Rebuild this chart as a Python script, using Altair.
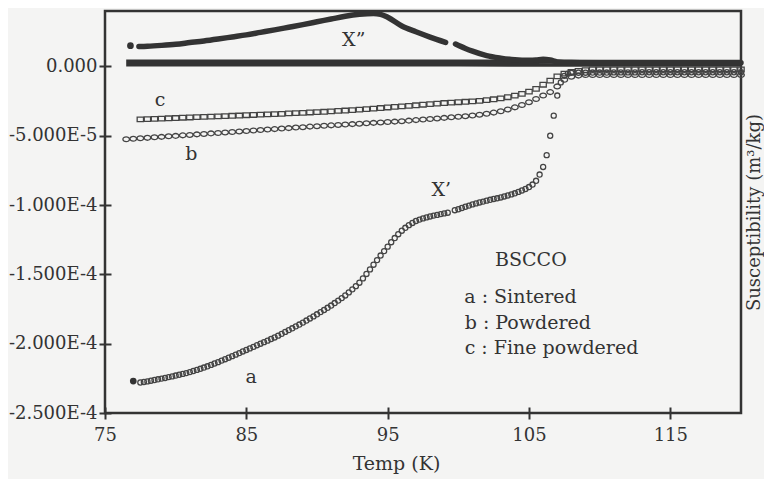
import altair as alt
import pandas as pd

FONT = "DejaVu Serif"
INK = "#333333"
U = 1e-5  # values below are in units of 1e-5 m^3/kg

# ---- chi' of sample a (sintered): open circles ----
T_a = [
    77.5, 77.75,
    78.0, 78.25, 78.5, 78.75,
    79.0, 79.25, 79.5, 79.75,
    80.0, 80.25, 80.5, 80.75,
    81.0, 81.25, 81.5, 81.75,
    82.0, 82.25, 82.5, 82.75,
    83.0, 83.25, 83.5, 83.75,
    84.0, 84.25, 84.5, 84.75,
    85.0, 85.25, 85.5, 85.75,
    86.0, 86.25, 86.5, 86.75,
    87.0, 87.25, 87.5, 87.75,
    88.0, 88.25, 88.5, 88.75,
    89.0, 89.25, 89.5, 89.75,
    90.0, 90.25, 90.5, 90.75,
    91.0, 91.25, 91.5, 91.75,
    92.0, 92.25, 92.5, 92.75,
    93.0, 93.25, 93.5, 93.75,
    94.0, 94.25, 94.5, 94.75,
    95.0, 95.25, 95.5, 95.75,
    96.0, 96.25, 96.5, 96.75,
    97.0, 97.25, 97.5, 97.75,
    98.0, 98.25, 98.5, 98.75,
    99.0, 99.25, 99.75,
    100.0, 100.25, 100.5, 100.75,
    101.0, 101.25, 101.5, 101.75,
    102.0, 102.25, 102.5, 102.75,
    103.0, 103.25, 103.5, 103.75,
    104.0, 104.25, 104.5, 104.75,
    105.0, 105.25, 105.5, 105.75,
    106.0, 106.25, 106.5, 106.75,
    107.0, 107.25, 107.5, 107.75,
    108.0, 108.5, 109.0, 109.5, 110.0, 110.5, 111.0, 111.5, 112.0, 112.5,
    113.0, 113.5, 114.0, 114.5, 115.0, 115.5, 116.0, 116.5, 117.0, 117.5,
    118.0, 118.5, 119.0, 119.5, 120.0,
]
chi_a = [
    -22.80, -22.76,
    -22.72, -22.67, -22.62, -22.57,
    -22.52, -22.47, -22.41, -22.36,
    -22.30, -22.24, -22.18, -22.12,
    -22.05, -21.97, -21.89, -21.81,
    -21.72, -21.63, -21.53, -21.43,
    -21.33, -21.22, -21.12, -21.01,
    -20.90, -20.79, -20.68, -20.56,
    -20.45, -20.34, -20.23, -20.11,
    -20.00, -19.89, -19.78, -19.66,
    -19.55, -19.42, -19.29, -19.15,
    -19.02, -18.89, -18.75, -18.62,
    -18.48, -18.33, -18.18, -18.03,
    -17.88, -17.72, -17.57, -17.41,
    -17.25, -17.07, -16.89, -16.71,
    -16.52, -16.30, -16.08, -15.85,
    -15.60, -15.29, -14.97, -14.64,
    -14.30, -13.97, -13.64, -13.32,
    -13.00, -12.68, -12.38, -12.10,
    -11.85, -11.64, -11.45, -11.29,
    -11.15, -11.05, -10.96, -10.89,
    -10.82, -10.76, -10.71, -10.65,
    -10.60, -10.55, -10.37,
    -10.30, -10.21, -10.12, -10.04,
    -9.95, -9.88, -9.81, -9.75,
    -9.68, -9.62, -9.56, -9.51,
    -9.45, -9.38, -9.31, -9.23,
    -9.15, -9.05, -8.95, -8.84,
    -8.70, -8.52, -8.25, -7.80,
    -7.25, -6.40, -5.00, -3.55,
    -2.10, -1.15, -0.68, -0.52,
    -0.46, -0.45, -0.45, -0.44, -0.44, -0.44, -0.43, -0.43, -0.43, -0.43,
    -0.42, -0.42, -0.42, -0.42, -0.42, -0.42, -0.42, -0.42, -0.42, -0.42,
    -0.42, -0.42, -0.42, -0.42, -0.42,
]

# ---- chi' of sample b (powdered): small open circles ----
T_b = [
    76.5,
    77.0, 77.5, 78.0, 78.5, 79.0, 79.5, 80.0, 80.5, 81.0, 81.5,
    82.0, 82.5, 83.0, 83.5, 84.0, 84.5, 85.0, 85.5, 86.0, 86.5,
    87.0, 87.5, 88.0, 88.5, 89.0, 89.5, 90.0, 90.5, 91.0, 91.5,
    92.0, 92.5, 93.0, 93.5, 94.0, 94.5, 95.0, 95.5, 96.0, 96.5,
    97.0, 97.5, 98.0, 98.5, 99.0, 99.5, 100.0, 100.5, 101.0, 101.5,
    102.0, 102.5, 103.0, 103.5, 104.0, 104.5, 105.0, 105.5, 106.0, 106.5,
    107.0, 107.5, 108.0, 108.5, 109.0, 109.5, 110.0, 110.5, 111.0, 111.5,
    112.0, 112.5, 113.0, 113.5, 114.0, 114.5, 115.0, 115.5, 116.0, 116.5,
    117.0, 117.5, 118.0, 118.5, 119.0, 119.5, 120.0,
]
chi_b = [
    -5.25,
    -5.22, -5.18, -5.15, -5.11, -5.08, -5.04, -5.01, -4.97, -4.94, -4.90,
    -4.87, -4.83, -4.80, -4.76, -4.73, -4.69, -4.66, -4.62, -4.59, -4.55,
    -4.52, -4.48, -4.45, -4.41, -4.38, -4.34, -4.31, -4.28, -4.25, -4.22,
    -4.19, -4.16, -4.13, -4.10, -4.07, -4.04, -4.01, -3.98, -3.95, -3.91,
    -3.87, -3.83, -3.79, -3.75, -3.71, -3.67, -3.63, -3.59, -3.54, -3.48,
    -3.41, -3.33, -3.23, -3.10, -2.95, -2.78, -2.58, -2.35, -2.10, -1.85,
    -1.44, -0.96, -0.74, -0.66, -0.62, -0.62, -0.62, -0.62, -0.62, -0.62,
    -0.62, -0.62, -0.62, -0.62, -0.62, -0.62, -0.62, -0.62, -0.62, -0.62,
    -0.62, -0.62, -0.62, -0.62, -0.62, -0.62, -0.62,
]

# ---- chi' of sample c (fine powdered): open squares ----
T_c = [
    77.5, 78.0, 78.5, 79.0, 79.5, 80.0, 80.5, 81.0, 81.5,
    82.0, 82.5, 83.0, 83.5, 84.0, 84.5, 85.0, 85.5, 86.0, 86.5,
    87.0, 87.5, 88.0, 88.5, 89.0, 89.5, 90.0, 90.5, 91.0, 91.5,
    92.0, 92.5, 93.0, 93.5, 94.0, 94.5, 95.0, 95.5, 96.0, 96.5,
    97.0, 97.5, 98.0, 98.5, 99.0, 99.5, 100.0, 100.5, 101.0, 101.5,
    102.0, 102.5, 103.0, 103.5, 104.0, 104.5, 105.0, 105.5, 106.0, 106.5,
    107.0, 107.5, 108.0, 108.5, 109.0, 109.5, 110.0, 110.5, 111.0, 111.5,
    112.0, 112.5, 113.0, 113.5, 114.0, 114.5, 115.0, 115.5, 116.0, 116.5,
    117.0, 117.5, 118.0, 118.5, 119.0, 119.5, 120.0,
]
chi_c = [
    -3.82, -3.80, -3.78, -3.76, -3.74, -3.72, -3.70, -3.68, -3.66,
    -3.64, -3.62, -3.60, -3.58, -3.56, -3.54, -3.52, -3.50, -3.48, -3.46,
    -3.44, -3.42, -3.39, -3.37, -3.35, -3.32, -3.30, -3.27, -3.24, -3.21,
    -3.18, -3.15, -3.12, -3.08, -3.04, -3.00, -2.96, -2.92, -2.88, -2.84,
    -2.80, -2.76, -2.72, -2.68, -2.64, -2.61, -2.58, -2.55, -2.52, -2.48,
    -2.43, -2.37, -2.30, -2.22, -2.11, -1.98, -1.82, -1.62, -1.32, -1.02,
    -0.72, -0.52, -0.40, -0.32, -0.26, -0.22, -0.22, -0.22, -0.22, -0.22,
    -0.22, -0.22, -0.22, -0.22, -0.22, -0.22, -0.22, -0.22, -0.22, -0.22,
    -0.22, -0.22, -0.22, -0.22, -0.22, -0.22, -0.22,
]

# ---- chi'' of sample a: thick curve in two pieces ----
T_xa1 = [77.4, 78.0, 79.0, 80.0, 81.0, 82.0, 83.0, 84.0, 85.0, 86.0, 87.0, 88.0,
         89.0, 90.0, 91.0, 92.0, 93.0, 94.0, 94.5, 95.0, 96.0, 97.0, 98.0, 99.1]
chi_xa1 = [1.44, 1.46, 1.52, 1.60, 1.72, 1.84, 1.98, 2.13, 2.28, 2.46, 2.64, 2.83,
           3.02, 3.22, 3.42, 3.62, 3.76, 3.82, 3.76, 3.55, 2.92, 2.50, 2.12, 1.74]
T_xa2 = [99.8, 100.5, 101.0, 102.0, 103.0, 104.0, 105.0, 105.5, 106.0, 106.5,
         107.0, 108.0, 110.0, 115.0, 120.0]
chi_xa2 = [1.62, 1.30, 1.10, 0.78, 0.60, 0.48, 0.44, 0.46, 0.52, 0.46,
           0.33, 0.28, 0.27, 0.27, 0.27]

# ---- chi'' of samples b and c: flat bands near zero ----
T_xbc = [76.5, 80.0, 85.0, 90.0, 95.0, 100.0, 105.0, 110.0, 115.0, 120.0]
chi_xb = [0.38, 0.38, 0.38, 0.38, 0.38, 0.38, 0.37, 0.36, 0.36, 0.36]
chi_xc = [0.12, 0.12, 0.12, 0.12, 0.12, 0.12, 0.11, 0.10, 0.10, 0.10]

# ---- first measured points (drawn filled) ----
T_start = [76.8, 77.0]
chi_start = [1.50, -22.70]

# ---- annotations ----
ann_text = ["X\u201d", "X\u2019", "a", "b", "c"]
ann_T = [92.6, 98.8, 85.35, 81.1, 78.9]
ann_chi = [1.94, -8.9, -22.4, -6.3, -2.45]

leg_text = ["BSCCO", "a : Sintered", "b : Powdered", "c : Fine powdered"]
leg_T = [102.6, 100.42, 100.45, 100.45]
leg_chi = [-14.40, -17.06, -18.94, -20.74]

x_ticks = [75, 85, 95, 105, 115]
y_ticks = [0.0, -5e-5, -1e-4, -1.5e-4, -2e-4, -2.5e-4]


def frame(T, chi, **extra):
    d = pd.DataFrame({"T": T, "chi": [v * U for v in chi]})
    for k, v in extra.items():
        d[k] = v
    return d


xs = alt.Scale(domain=[75, 120], nice=False, zero=False)
ys = alt.Scale(domain=[-2.5e-4, 4e-5], nice=False, zero=False)

x_axis = alt.Axis(
    values=x_ticks, title="Temp (K)", offset=-6, tickSize=12, tickWidth=2,
    tickColor=INK, domain=False, grid=False, labelFlush=False,
    labelFont=FONT, labelFontSize=18, labelColor=INK, labelPadding=7,
    titleFont=FONT, titleFontSize=19, titleFontWeight="normal", titleColor=INK,
    titlePadding=10, titleX=291,
)
y_axis = alt.Axis(
    values=y_ticks, title=None, offset=-6, tickSize=12, tickWidth=2,
    tickColor=INK, domain=False, grid=False, labelFlush=False,
    labelExpr="datum.value == 0 ? '0.000' : replace(replace(format(datum.value, '.3e'), 'e', 'E'), '\u2212', '-')",
    labelFont=FONT, labelFontSize=18, labelColor=INK, labelPadding=2,
)
y_axis_right = alt.Axis(
    orient="right", title="Susceptibility (m\u00b3/kg)", labels=False, ticks=False,
    domain=False, grid=False, titleAngle=270, titleBaseline="middle",
    titlePadding=13, titleFont=FONT, titleFontSize=18, titleFontWeight="normal",
    titleColor=INK,
)


def enc(xa=None, ya=None):
    return dict(x=alt.X("T:Q", scale=xs, axis=xa), y=alt.Y("chi:Q", scale=ys, axis=ya))


WIDE_RECT = "M -1 -0.72 L 1 -0.72 L 1 0.72 L -1 0.72 Z"
WIDE_OVAL = "M -1 0 A 1 0.72 0 1 0 1 0 A 1 0.72 0 1 0 -1 0 Z"

band_df = pd.concat([
    frame(T_xbc, chi_xb, s="b"),
    frame(T_xbc, chi_xc, s="c"),
])
bands = alt.Chart(band_df).mark_line(color=INK, strokeWidth=3.6).encode(
    detail="s:N", **enc())

xa_df = pd.concat([frame(T_xa1, chi_xa1, s="1"), frame(T_xa2, chi_xa2, s="2")])
xa_line = alt.Chart(xa_df).mark_line(
    color=INK, strokeWidth=5.5, strokeCap="round", interpolate="monotone"
).encode(detail="s:N", **enc())

pts_a = alt.Chart(frame(T_a, chi_a)).mark_point(
    shape="circle", filled=False, size=26, strokeWidth=1.3, color="#444444", opacity=1
).encode(**enc(x_axis, y_axis))

pts_b = alt.Chart(frame(T_b, chi_b)).mark_point(
    shape=WIDE_OVAL, filled=False, size=44, strokeWidth=1.3, color="#444444", opacity=1
).encode(**enc())

pts_c = alt.Chart(frame(T_c, chi_c)).mark_point(
    shape=WIDE_RECT, filled=False, size=40, strokeWidth=1.3, color="#444444", opacity=1
).encode(**enc())

starts = alt.Chart(frame(T_start, chi_start)).mark_point(
    shape="circle", filled=True, size=45, color=INK, opacity=1
).encode(**enc())

ann = alt.Chart(frame(ann_T, ann_chi, label=ann_text)).mark_text(
    font=FONT, fontSize=19, color=INK, align="center", baseline="middle"
).encode(text="label:N", **enc())

leg = alt.Chart(frame(leg_T, leg_chi, label=leg_text)).mark_text(
    font=FONT, fontSize=19, color=INK, align="left", baseline="alphabetic"
).encode(text="label:N", **enc(None, y_axis_right))

chart = (
    alt.layer(bands, xa_line, pts_c, pts_b, pts_a, starts, ann, leg)
    .resolve_axis(x="independent", y="independent")
    .properties(
        width=636, height=402,
        padding={"left": 97, "top": 3, "right": 23, "bottom": 66},
        autosize=alt.AutoSizeParams(type="none"),
        background="#f4f4f3",
    )
    .configure_view(stroke=INK, strokeWidth=2.5)
)

chart.save("out.html", embed_options={"renderer": "svg", "actions": False})
